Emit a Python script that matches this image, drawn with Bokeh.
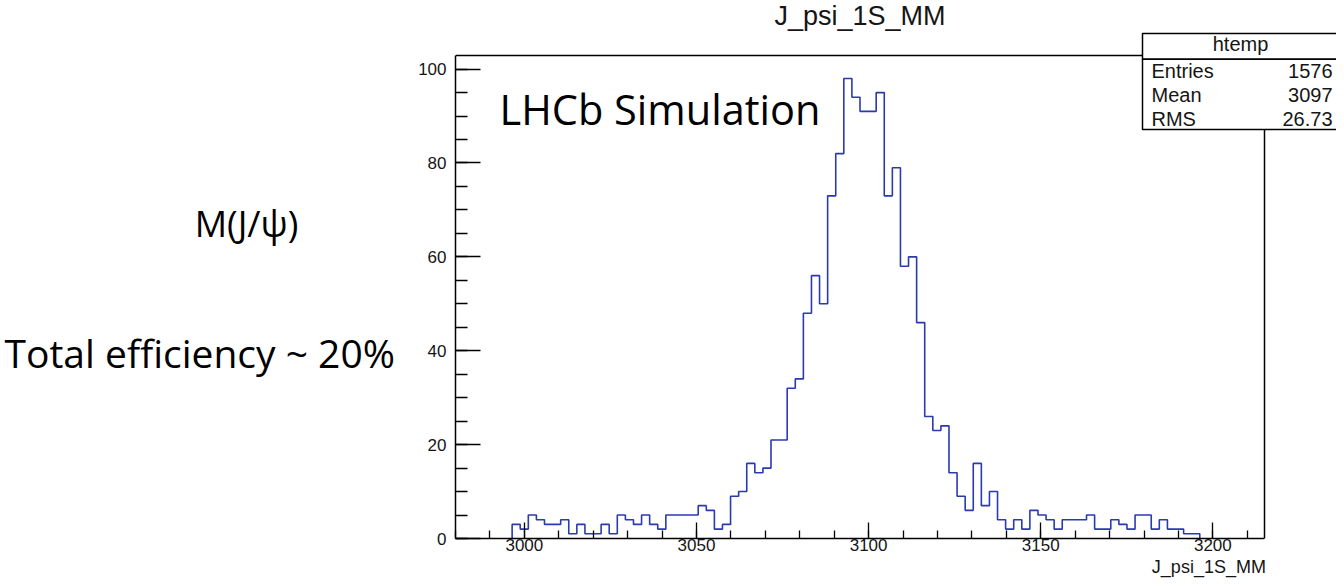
from bokeh.plotting import figure
from bokeh.models import Range1d, SingleIntervalTicker, Label
from bokeh.layouts import row, column
from bokeh.embed import file_html
from bokeh.resources import INLINE
import numpy as np

# ---- data ----
hist_min = 2980.0
hist_max = 3215.0
n_bins = 100
first_filled_bin = 7
counts = [3, 2, 5, 4, 3, 3, 4, 1, 3, 1, 1, 3, 1, 5, 4, 3, 5, 3, 2, 5, 5, 5, 5, 7, 6, 2, 3,
          9, 10, 16, 14, 15, 21, 21, 32, 34, 48, 56, 50, 73, 82, 98, 94, 91, 91, 95, 73,
          79, 58, 60, 46, 26, 23, 24, 14, 9, 6, 16, 7, 10, 4, 2, 4, 2, 6, 5, 4, 2, 4, 4,
          4, 5, 2, 2, 4, 3, 2, 5, 5, 2, 4, 2, 2, 1, 1]
y_max = 102.9
hist_title = "J_psi_1S_MM"
x_label = "J_psi_1S_MM"
stats_name = "htemp"
stats_keys = ["Entries", "Mean", "RMS"]
stats_vals = ["1576", "3097", "26.73"]
slide_texts = ["M(J/\u03c8)", "Total efficiency ~ 20%"]
sim_label = "LHCb Simulation"

LINE = "#2b3aae"
INK = "#151515"
ROOT_FONT = "Liberation Sans"
SLIDE_FONT = "Open Sans"
# distance from the em-box centre down to the alphabetic baseline (in em)
CENTRAL = {ROOT_FONT: 0.35, SLIDE_FONT: 0.39}

# ---- geometry (page pixels of the reference) ----
FR_L, FR_R, FR_T, FR_B = 463, 1272, 63, 546   # ROOT frame
LEFT_W = 400
MAIN_W = 1336 - LEFT_W
STRIP_H = 20
MAIN_H = 578 - STRIP_H
sx = (FR_R - FR_L) / (hist_max - hist_min)
sy = (FR_B - FR_T) / y_max
x_end = hist_min + (8 + LEFT_W + MAIN_W - FR_L) / sx
y_end = (FR_B - 8) / sy

def X(px):
    return hist_min + (px - FR_L) / sx

def Y(py):
    return (FR_B - py) / sy

def make_label(txt, x, y, size, font, align):
    return Label(x=x, y=y, text=txt, text_font=font, text_font_size=f"{size}px",
                 text_align=align, text_baseline="alphabetic",
                 text_color=INK if font == ROOT_FONT else "black")

def blank(width, height, x0, y0):
    f = figure(width=width, height=height, output_backend="svg",
               toolbar_location=None,
               x_range=Range1d(x0, x0 + width), y_range=Range1d(y0 + height, y0),
               min_border=0, x_axis_location=None, y_axis_location=None)
    f.title.visible = False
    f.outline_line_color = None
    f.grid.visible = False
    return f

# ---- left panel with slide texts ----
left = blank(LEFT_W, 578, 8, 8)
for txt, px, base, size, align in [(slide_texts[0], 254, 245, 36, "center"),
                                   (slide_texts[1], 12, 375, 39, "left")]:
    left.add_layout(make_label(txt, px, base - CENTRAL[SLIDE_FONT] * size, size,
                               SLIDE_FONT, align))

# ---- main histogram ----
p = figure(width=MAIN_W, height=MAIN_H, output_backend="svg", toolbar_location=None,
           x_range=Range1d(hist_min, x_end), y_range=Range1d(0, y_end),
           min_border_left=FR_L - 8 - LEFT_W, min_border_right=0, min_border_top=0,
           min_border_bottom=MAIN_H - (FR_B - 8))
p.title.visible = False
p.grid.visible = False
p.outline_line_color = None
p.background_fill_color = "white"
p.border_fill_color = "white"

# top and right edges of the ROOT frame
p.line([hist_min, hist_max, hist_max], [y_max, y_max, 0], line_color="black",
       line_width=1.5)

bw = (hist_max - hist_min) / n_bins
edges = hist_min + bw * (first_filled_bin + np.arange(len(counts) + 1))
xs = np.concatenate([[edges[0]], edges])
ys = np.concatenate([[0], counts, [0]])
p.step(xs, ys, mode="after", line_color=LINE, line_width=1.6)

for ax in (p.xaxis[0], p.yaxis[0]):
    ax.axis_line_color = "black"
    ax.axis_line_width = 1.5
    ax.major_tick_line_color = "black"
    ax.minor_tick_line_color = "black"
    ax.major_tick_line_width = 1.3
    ax.minor_tick_line_width = 1.3
    ax.major_tick_out = 0
    ax.minor_tick_out = 0
    ax.major_label_text_font = ROOT_FONT
    ax.major_label_text_color = INK

p.xaxis.major_label_text_font_size = "17px"
p.yaxis.major_label_text_font_size = "17px"
p.xaxis.bounds = (hist_min, hist_max)
p.yaxis.bounds = (0, y_max)
p.xaxis.ticker = SingleIntervalTicker(interval=50, num_minor_ticks=5)
p.yaxis.ticker = SingleIntervalTicker(interval=20, num_minor_ticks=4)
p.xaxis.major_tick_in = 16
p.xaxis.minor_tick_in = 8
p.yaxis.major_tick_in = 25
p.yaxis.minor_tick_in = 12
p.xaxis.major_label_standoff = 0
p.yaxis.major_label_standoff = 9

def add_text(txt, px, base, size, font=ROOT_FONT, align="left"):
    p.add_layout(make_label(txt, X(px), Y(base - CENTRAL[font] * size), size,
                            font, align))

add_text(hist_title, 867.5, 32.5, 27, align="center")

# stats box
p.quad(left=[X(1150)], right=[X(1347)], top=[Y(41)], bottom=[Y(66.7)],
       fill_color="white", line_color="black", line_width=1.5)
p.quad(left=[X(1150)], right=[X(1347)], top=[Y(66.7)], bottom=[Y(137)],
       fill_color="white", line_color="black", line_width=1.5)
add_text(stats_name, 1248, 58, 20, align="center")
for i, (k, v) in enumerate(zip(stats_keys, stats_vals)):
    base = 85 + 24 * i
    add_text(k, 1159, base, 20)
    add_text(v, 1340, base, 20, align="right")

add_text(sim_label, 507, 132.7, 41.5, font=SLIDE_FONT)

# ---- strip below with the x axis title ----
strip = blank(MAIN_W, STRIP_H, 8 + LEFT_W, 586 - STRIP_H)
strip.add_layout(make_label(x_label, 1269, 580.5 - CENTRAL[ROOT_FONT] * 18, 18,
                            ROOT_FONT, "right"))

layout = row(left, column(p, strip, spacing=0), spacing=0)
open("out.html", "w").write(file_html(layout, INLINE))
